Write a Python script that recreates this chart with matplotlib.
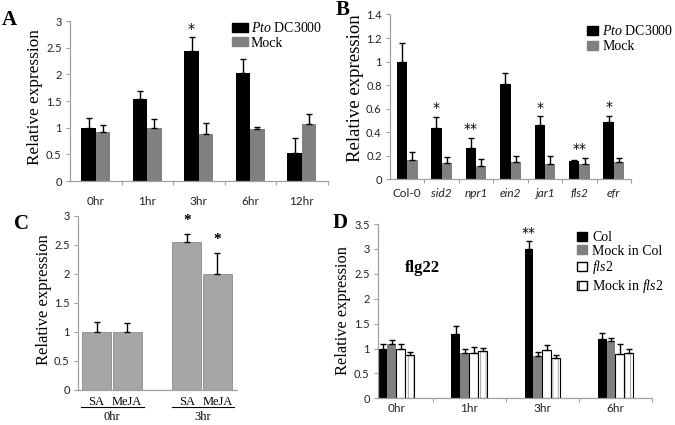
import matplotlib
matplotlib.use("Agg")
import matplotlib.pyplot as plt
from matplotlib.patches import Patch
from matplotlib.ticker import FuncFormatter, FixedLocator
import numpy as np

plt.rcParams['mathtext.fontset'] = 'custom'
plt.rcParams['mathtext.rm'] = 'Liberation Serif'
plt.rcParams['mathtext.it'] = 'Liberation Serif:italic'
plt.rcParams['hatch.linewidth'] = 0.8

SERIF = 'Liberation Serif'
SANS = 'Lato'
STAR = 'DejaVu Sans'

# ---------------- data ----------------
A_times = ['0hr', '1hr', '3hr', '6hr', '12hr']
A_pto = [1.0, 1.53, 2.44, 2.03, 0.53]
A_pto_err = [0.18, 0.15, 0.26, 0.26, 0.28]
A_mock = [0.91, 1.0, 0.88, 0.98, 1.07]
A_mock_err = [0.14, 0.17, 0.20, 0.04, 0.18]
A_stars = ['', '', '*', '', '']

B_lines = ['Col-0', 'sid2', 'npr1', 'ein2', 'jar1', 'fls2', 'efr']
B_pto = [1.0, 0.436, 0.266, 0.81, 0.465, 0.153, 0.49]
B_pto_err = [0.16, 0.094, 0.084, 0.09, 0.07, 0.014, 0.05]
B_mock = [0.16, 0.136, 0.116, 0.147, 0.127, 0.133, 0.145]
B_mock_err = [0.075, 0.054, 0.054, 0.053, 0.073, 0.047, 0.035]
B_stars = ['', '*', '**', '', '*', '**', '*']

C_treat = ['SA', 'MeJA', 'SA', 'MeJA']
C_times = ['0hr', '3hr']
C_vals = [1.0, 1.0, 2.55, 2.0]
C_err = [0.17, 0.15, 0.13, 0.35]
C_stars = ['', '', '*', '*']

D_times = ['0hr', '1hr', '3hr', '6hr']
D_col = [1.0, 1.30, 2.99, 1.20]
D_col_err = [0.10, 0.15, 0.16, 0.11]
D_mockcol = [1.10, 0.91, 0.85, 1.16]
D_mockcol_err = [0.07, 0.07, 0.07, 0.06]
D_fls2 = [1.0, 0.90, 0.97, 0.89]
D_fls2_err = [0.10, 0.13, 0.10, 0.20]
D_mockfls2 = [0.87, 0.95, 0.80, 0.91]
D_mockfls2_err = [0.06, 0.06, 0.06, 0.08]
D_stars = ['', '', '**', '']

# ---------------- figure ----------------
W, H = 675, 425
fig = plt.figure(figsize=(6.75, 4.25), dpi=100)
fig.patch.set_facecolor('white')


def ax_px(l, r, b, t):
    return fig.add_axes([l / W, 1 - b / H, (r - l) / W, (b - t) / H])


def style(ax, ymax, ystep, ncat=None, xpad=7):
    for s in ['top', 'right']:
        ax.spines[s].set_visible(False)
    for s in ['left', 'bottom']:
        ax.spines[s].set_color('#a0a0a0')
        ax.spines[s].set_linewidth(0.9)
    ax.set_ylim(0, ymax)
    ax.yaxis.set_major_locator(FixedLocator(np.arange(0, ymax + 1e-9, ystep)))
    ax.yaxis.set_major_formatter(FuncFormatter(lambda v, p: '%g' % round(v, 2)))
    ax.tick_params(axis='y', direction='out', length=3, width=0.8, color='#a0a0a0',
                   labelsize=8, pad=3, labelcolor='#222222')
    for lab in ax.get_yticklabels():
        lab.set_fontfamily(SANS)
    if ncat is not None:
        ax.set_xticks(range(ncat))
        ax.tick_params(axis='x', which='major', length=0, pad=xpad, labelsize=8.5,
                       labelcolor='#222222')
        ax.set_xticks(np.arange(0.5, ncat - 0.5 + 1e-9, 1.0), minor=True)
        ax.tick_params(axis='x', which='minor', direction='out', length=3, width=0.8,
                       color='#a0a0a0')


ekw = dict(ecolor='black', elinewidth=1.0, capsize=2.5, capthick=1.0)


def ylabel_fig(x, y, size):
    fig.text(x / W, 1 - y / H, 'Relative expression', rotation=90, ha='center', va='center',
             fontsize=size, family=SERIF)


def panel_letter(x, y, s):
    fig.text(x / W, 1 - y / H, s, ha='center', va='center', fontsize=15,
             fontweight='bold', family=SERIF)


# ---------------- Panel A ----------------
axA = ax_px(70, 327.5, 181, 21)
nA = len(A_times)
xA = np.arange(nA)
wA = 0.28
axA.bar(xA - wA / 2, A_pto, wA, color='black', zorder=2)
axA.bar(xA + wA / 2, A_mock, wA, color='#808080', zorder=2)
axA.errorbar(xA - wA / 2, A_pto, yerr=[np.zeros(nA), A_pto_err], fmt='none', zorder=3, **ekw)
axA.errorbar(xA + wA / 2, A_mock, yerr=[np.zeros(nA), A_mock_err], fmt='none', zorder=3, **ekw)
axA.set_xlim(-0.5, nA - 0.5)
style(axA, 3, 0.5, nA, xpad=11)
axA.set_xticklabels(A_times, family=SANS)
for i, s in enumerate(A_stars):
    if s:
        axA.text(i - wA / 2, A_pto[i] + A_pto_err[i] + 0.02, s, ha='center', va='bottom',
                 fontsize=10, family=STAR)
axA.legend(handles=[Patch(color='black', label='$\\mathit{Pto}$ DC3000'),
                    Patch(color='#808080', label='Mock')],
           loc='upper left', bbox_to_anchor=(232 / W, 1 - 21 / H), bbox_transform=fig.transFigure,
           frameon=False, prop={'family': SERIF, 'size': 10}, handlelength=1.15,
           handleheight=0.6, handletextpad=0.2, labelspacing=0.12, borderpad=0,
           borderaxespad=0)
ylabel_fig(35, 97, 12.4)
panel_letter(9, 20, 'A')

# ---------------- Panel B ----------------
axB = ax_px(390, 631, 179.3, 14.5)
nB = len(B_lines)
xB = np.arange(nB)
wB = 0.30
axB.bar(xB - wB / 2, B_pto, wB, color='black', zorder=2)
axB.bar(xB + wB / 2, B_mock, wB, color='#808080', zorder=2)
axB.errorbar(xB - wB / 2, B_pto, yerr=[np.zeros(nB), B_pto_err], fmt='none', zorder=3, **ekw)
axB.errorbar(xB + wB / 2, B_mock, yerr=[np.zeros(nB), B_mock_err], fmt='none', zorder=3, **ekw)
axB.set_xlim(-0.5, nB - 0.5)
style(axB, 1.4, 0.2, nB, xpad=6)
axB.set_xticklabels(B_lines, family=SANS)
for i, lab in enumerate(axB.get_xticklabels()):
    if i > 0:
        lab.set_fontstyle('italic')
for i, s in enumerate(B_stars):
    if s == '*':
        axB.text(i - wB / 2, B_pto[i] + B_pto_err[i] + 0.015, s, ha='center', va='bottom',
                 fontsize=10, family=STAR)
    elif s == '**':
        top = max(B_pto[i] + B_pto_err[i], B_mock[i] + B_mock_err[i])
        xs = i - wB / 2 if B_pto[i] > 0.2 else i
        axB.text(xs, top + 0.015, s, ha='center', va='bottom', fontsize=10, family=STAR)
axB.legend(handles=[Patch(color='black', label='$\\mathit{Pto}$ DC3000'),
                    Patch(color='#808080', label='Mock')],
           loc='upper left', bbox_to_anchor=(587 / W, 1 - 24 / H), bbox_transform=fig.transFigure,
           frameon=False, prop={'family': SERIF, 'size': 10}, handlelength=0.8,
           handleheight=0.6, handletextpad=0.3, labelspacing=0.15, borderpad=0,
           borderaxespad=0)
ylabel_fig(355, 88, 13.5)
panel_letter(343, 10, 'B')

# ---------------- Panel C ----------------
axC = ax_px(78, 237, 390, 215.5)
xC = np.array([0, 1, 2.96, 3.96])
wC = 0.95
axC.bar(xC, C_vals, wC, color='#a6a6a6', edgecolor='#8a8a8a', linewidth=0.6, zorder=2)
axC.errorbar(xC, C_vals, yerr=[np.zeros(4), C_err], fmt='none', zorder=3, **ekw)
axC.set_xlim(-0.61, 4.6)
style(axC, 3, 0.5, None)
axC.set_xticks([])
for i, s in enumerate(C_stars):
    if s:
        axC.text(xC[i], C_vals[i] + C_err[i] + 0.12, s, ha='center', va='bottom',
                 fontsize=11, family=SERIF, fontweight='bold')
# group labels under axis
hC = 390 - 215.5
for i, t in enumerate(C_treat):
    axC.text(xC[i], -(402 - 390) / hC, t, ha='center', va='center', fontsize=9,
             family=SERIF, transform=axC.get_xaxis_transform())
for g, t in enumerate(C_times):
    x0 = xC[2 * g] - 0.5
    x1 = xC[2 * g + 1] + 0.55
    axC.plot([x0, x1], [-(407 - 390) / hC] * 2, color='black', lw=0.8,
             transform=axC.get_xaxis_transform(), clip_on=False)
    axC.text((xC[2 * g] + xC[2 * g + 1]) / 2, -(416.5 - 390) / hC, t, ha='center', va='center',
             fontsize=9, family=SERIF, transform=axC.get_xaxis_transform())
ylabel_fig(44, 300, 12)
panel_letter(22, 224, 'C')

# ---------------- Panel D ----------------
axD = ax_px(378, 652, 398.3, 224)
nD = len(D_times)
xD = np.arange(nD)
wD = 0.122
offs = np.array([-1.5, -0.5, 0.5, 1.5]) * wD
axD.bar(xD + offs[0], D_col, wD, color='black', zorder=2)
axD.bar(xD + offs[1], D_mockcol, wD, color='#808080', zorder=2)
axD.bar(xD + offs[2], D_fls2, wD, color='white', edgecolor='black', linewidth=0.8, zorder=2)
axD.bar(xD + offs[3], D_mockfls2, wD, color='white', edgecolor='#b0b0b0', hatch='|||',
        linewidth=0, zorder=2)
axD.bar(xD + offs[3], D_mockfls2, wD, color='none', edgecolor='black', linewidth=0.8, zorder=2)
for k, (v, e) in enumerate([(D_col, D_col_err), (D_mockcol, D_mockcol_err),
                            (D_fls2, D_fls2_err), (D_mockfls2, D_mockfls2_err)]):
    axD.errorbar(xD + offs[k], v, yerr=[np.zeros(nD), e], fmt='none', zorder=3,
                 ecolor='black', elinewidth=1.0, capsize=2.2, capthick=1.0)
axD.set_xlim(-2 * wD - 0.005, nD - 1 + 0.29)
style(axD, 3.5, 0.5, nD, xpad=3.5)
axD.set_xticklabels(D_times, family=SANS)
for i, s in enumerate(D_stars):
    if s:
        axD.text(i + offs[0], D_col[i] + D_col_err[i] + 0.02, s, ha='center', va='bottom',
                 fontsize=10, family=STAR)
axD.text(422 / W, 1 - 268 / H, 'flg22', transform=fig.transFigure, ha='center', va='center',
         fontsize=12, fontweight='bold', family=SERIF)
hD = [Patch(facecolor='black', edgecolor='black', label='Col'),
      Patch(facecolor='#808080', edgecolor='#808080', label='Mock in Col'),
      Patch(facecolor='white', edgecolor='black', label='$\\mathit{fls2}$'),
      Patch(facecolor='white', edgecolor='black', hatch='||', label='Mock in $\\mathit{fls2}$')]
axD.legend(handles=hD, loc='upper left', bbox_to_anchor=(577 / W, 1 - 231 / H),
           bbox_transform=fig.transFigure, frameon=False, prop={'family': SERIF, 'size': 10},
           handlelength=0.75, handleheight=0.6, handletextpad=0.35, labelspacing=0.05,
           borderpad=0, borderaxespad=0)
ylabel_fig(343, 311, 11.8)
panel_letter(340, 223, 'D')

fig.savefig('out.png', dpi=100, facecolor='white')
